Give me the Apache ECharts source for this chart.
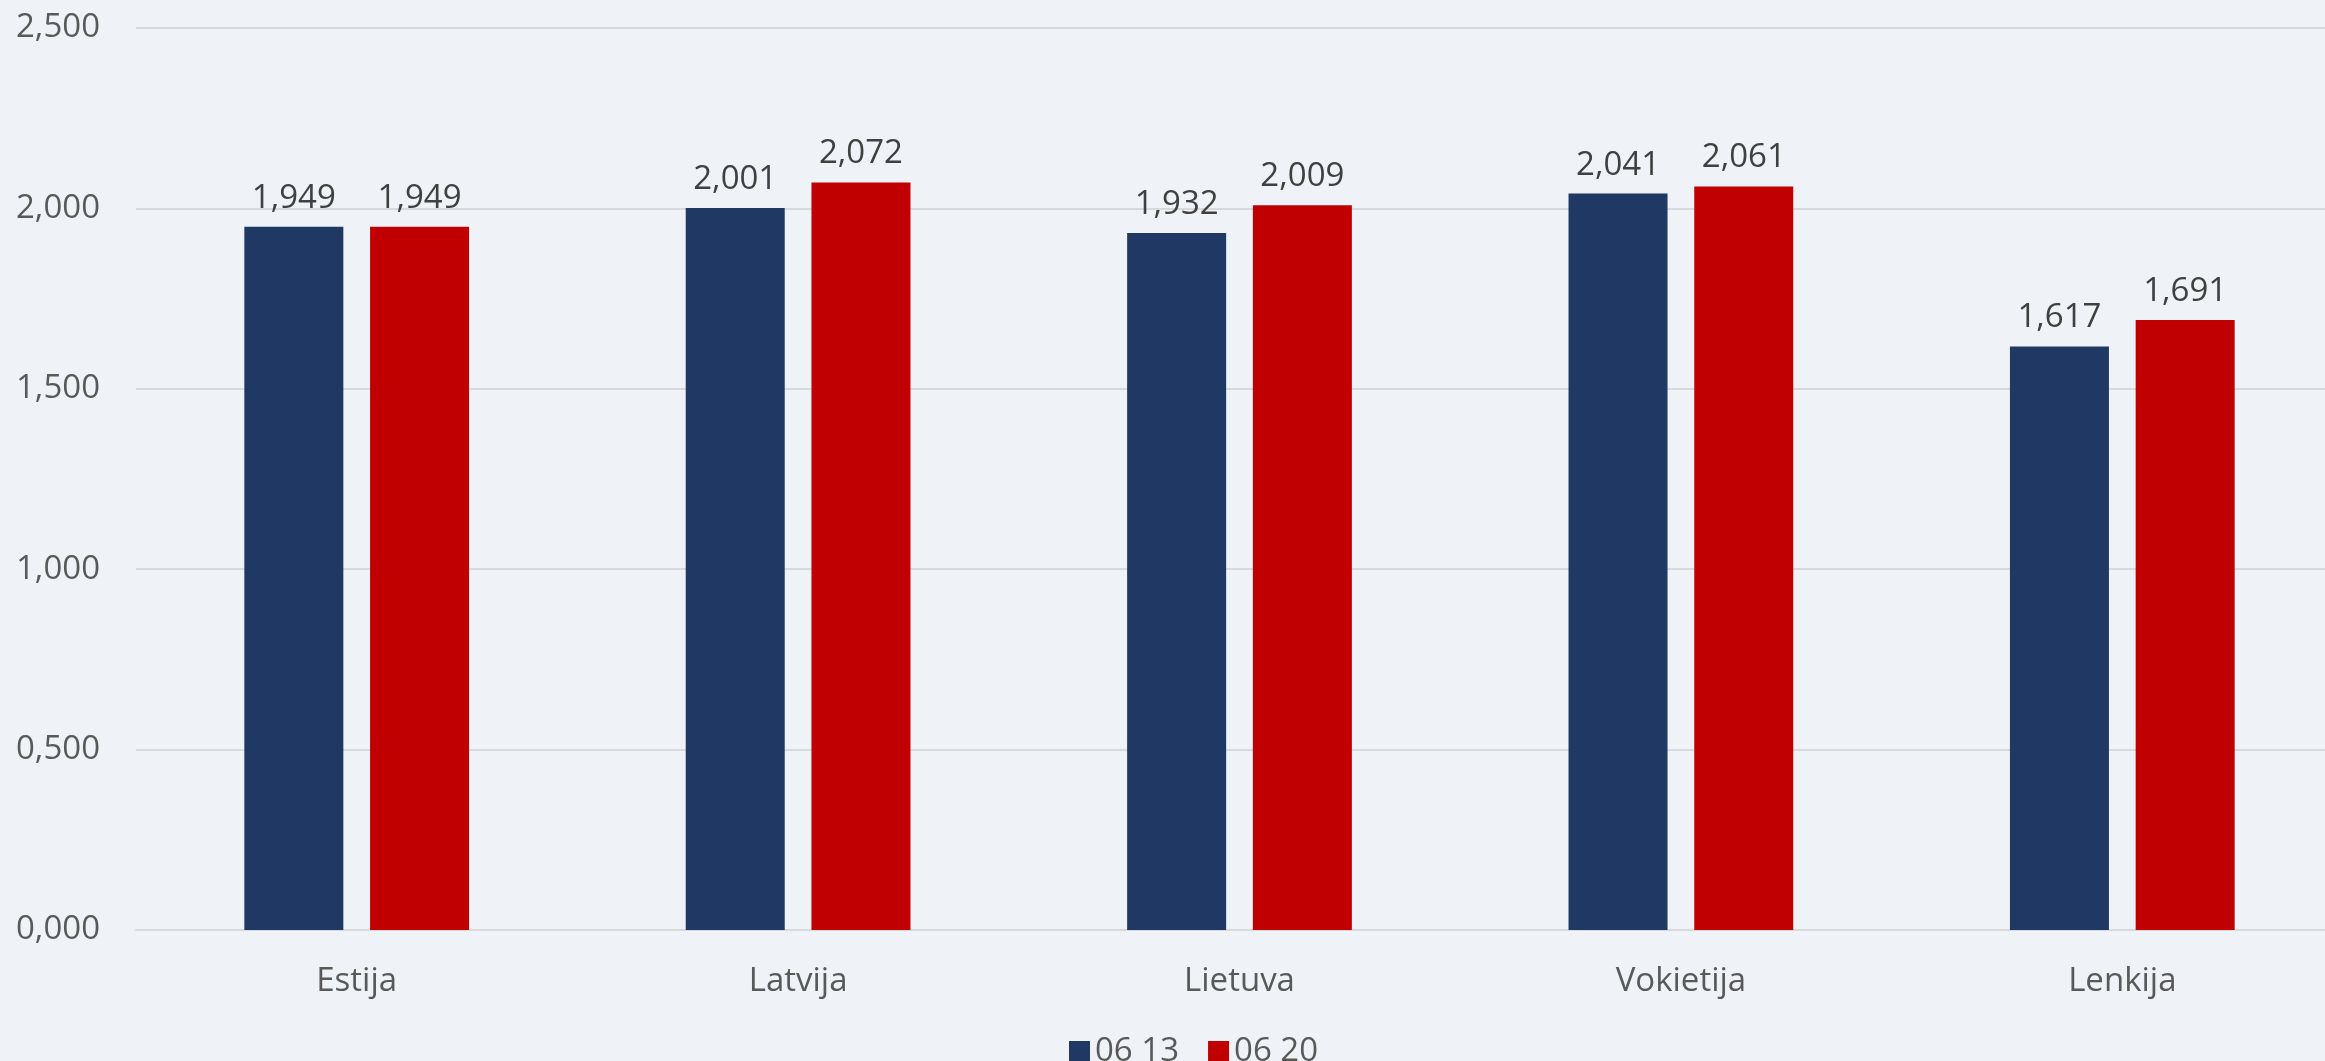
<!DOCTYPE html>
<html>
<head>
<meta charset="utf-8">
<script src="https://cdn.jsdelivr.net/npm/echarts@6/dist/echarts.min.js"></script>
<style>
  html, body { margin: 0; padding: 0; background: #eff3f7; }
  #chart { width: 2325px; height: 1061px; }
</style>
</head>
<body>
<div id="chart"></div>
<script>
var categories = ['Estija', 'Latvija', 'Lietuva', 'Vokietija', 'Lenkija'];
var seriesNames = ['06 13', '06 20'];
var values0613 = [1.949, 2.001, 1.932, 2.041, 1.617];
var values0620 = [1.949, 2.072, 2.009, 2.061, 1.691];

function fmt(v) {
  return Number(v).toFixed(3).replace('.', ',');
}

var myChart = echarts.init(document.getElementById('chart'));

var labelStyle = {
  show: true,
  position: 'top',
  distance: 12,
  fontFamily: 'Open Sans',
  fontSize: 33,
  color: '#404040',
  formatter: function (p) { return fmt(p.value); }
};

var option = {
  backgroundColor: '#eff3f7',
  textStyle: { fontFamily: 'Open Sans' },
  color: ['#203864', '#c00000'],
  // plot area runs a little past the right edge of the picture, like the original
  grid: { left: 136, right: -18, top: 28, bottom: 131, outerBoundsMode: 'none', containLabel: false },
  legend: {
    data: seriesNames,
    left: 1064,
    top: 1030,
    itemWidth: 21,
    itemHeight: 21,
    itemGap: 29,
    icon: 'rect',
    textStyle: { fontSize: 33, color: '#595959', fontFamily: 'Open Sans' }
  },
  xAxis: {
    type: 'category',
    data: categories,
    axisLine: { lineStyle: { color: '#d9d9d9', width: 2 } },
    axisTick: { show: false },
    axisLabel: { fontSize: 33, color: '#595959', margin: 35, fontFamily: 'Open Sans' }
  },
  yAxis: {
    type: 'value',
    min: 0,
    max: 2.5,
    interval: 0.5,
    axisLine: { show: false },
    axisTick: { show: false },
    splitLine: { lineStyle: { color: '#d9d9d9', width: 2 } },
    axisLabel: {
      fontSize: 33,
      color: '#595959',
      margin: 36,
      fontFamily: 'Open Sans',
      formatter: fmt
    }
  },
  series: [
    {
      name: seriesNames[0],
      type: 'bar',
      data: values0613,
      barWidth: 99,
      barGap: '27%',
      label: labelStyle
    },
    {
      name: seriesNames[1],
      type: 'bar',
      data: values0620,
      barWidth: 99,
      barGap: '27%',
      label: labelStyle
    }
  ]
};
myChart.setOption(option);
</script>
</body>
</html>
